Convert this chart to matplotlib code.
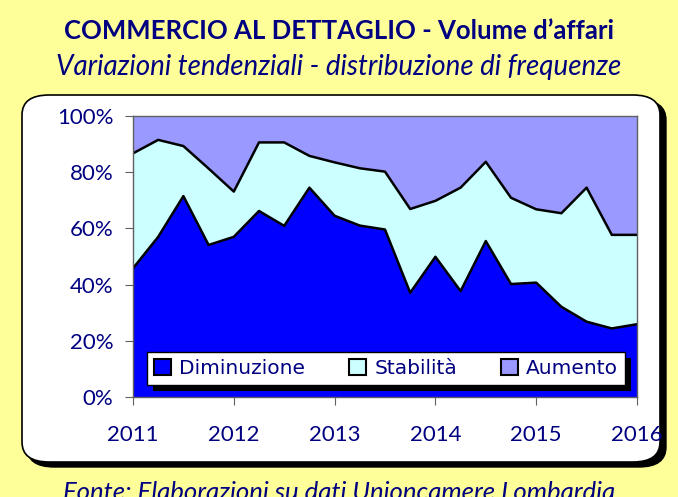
import matplotlib
matplotlib.use("Agg")
import matplotlib.pyplot as plt
from matplotlib.patches import FancyBboxPatch, Rectangle
import numpy as np

years = [2011, 2012, 2013, 2014, 2015, 2016]
quarters = [2011 + 0.25 * i for i in range(21)]
diminuzione = [45.8, 57.0, 71.5, 54.1, 57.0, 66.2, 60.9, 74.5, 64.5, 61.0, 59.6,
               37.1, 49.9, 37.7, 55.5, 40.2, 40.7, 32.1, 26.8, 24.4, 25.9]
dim_plus_stab = [86.7, 91.5, 89.3, 81.3, 73.1, 90.6, 90.6, 85.8, 83.5, 81.4, 80.2,
                 66.9, 69.8, 74.5, 83.7, 70.9, 66.8, 65.4, 74.5, 57.7, 57.7]
stabilita = [t - d for t, d in zip(dim_plus_stab, diminuzione)]
aumento = [100 - t for t in dim_plus_stab]
labels = ["Diminuzione", "Stabilità", "Aumento"]
colors = ["#0000FF", "#CCFFFF", "#9999FF"]
navy = "#000080"

W, H = 678, 497
fig = plt.figure(figsize=(W / 100, H / 100), dpi=100)
fig.patch.set_facecolor("#FFFF99")

def fx(px): return px / W
def fy(py): return 1 - py / H

shadow = FancyBboxPatch((fx(27), fy(467)), fx(666) - fx(27), fy(100) - fy(467),
                        boxstyle="round,pad=0,rounding_size=0.04", transform=fig.transFigure,
                        facecolor="black", edgecolor="black", zorder=0)
box = FancyBboxPatch((fx(22), fy(462)), fx(660) - fx(22), fy(95) - fy(462),
                     boxstyle="round,pad=0,rounding_size=0.04", transform=fig.transFigure,
                     facecolor="white", edgecolor="black", linewidth=1.2, zorder=1)
fig.patches.extend([shadow, box])

fig.text(0.5, fy(31), "COMMERCIO AL DETTAGLIO - Volume d\u2019affari", ha="center", va="center",
         fontsize=18.5, fontweight="bold", color=navy, family="Lato")
fig.text(0.5, fy(67), "Variazioni tendenziali - distribuzione di frequenze", ha="center", va="center",
         fontsize=20, style="italic", color=navy, family="Lato")
fig.text(0.5, fy(493), "Fonte: Elaborazioni su dati Unioncamere Lombardia", ha="center", va="center",
         fontsize=18.5, style="italic", color=navy, family="Lato")

ax = fig.add_axes([fx(133), fy(397), fx(637) - fx(133), fy(116) - fy(397)])
ax.set_zorder(2)
polys = ax.stackplot(quarters, diminuzione, stabilita, aumento, colors=colors, labels=labels,
                     edgecolor="none")
ax.plot(quarters, diminuzione, color="black", lw=1.8)
ax.plot(quarters, dim_plus_stab, color="black", lw=1.8)
ax.set_xlim(2011, 2016)
ax.set_ylim(0, 100)
ax.set_yticks([0, 20, 40, 60, 80, 100])
ax.set_yticklabels([f"{v}%" for v in [0, 20, 40, 60, 80, 100]])
ax.set_xticks(years)
ax.set_xticklabels([str(y) for y in years])
ax.tick_params(axis="both", colors="#606060", labelcolor=navy, labelsize=16, direction="out", length=6)
for lab in ax.get_xticklabels() + ax.get_yticklabels():
    lab.set_family("Lato")
ax.tick_params(axis="x", pad=14)
ax.tick_params(axis="y", pad=8)
for s in ax.spines.values():
    s.set_color("#606060")
    s.set_linewidth(1)

lx0, ly0, lx1, ly1 = 147, 347, 625, 385
leg = ax.legend(handles=polys, labels=labels, loc="lower left", ncol=3,
                bbox_to_anchor=((lx0 - 133) / 504, (397 - ly1) / 281, (lx1 - lx0) / 504, (ly1 - ly0) / 281),
                mode="expand", frameon=True, fancybox=False, framealpha=1, fontsize=14.5,
                handlelength=0.85, handleheight=0.85, handletextpad=0.4, columnspacing=1.0,
                borderpad=0.35, borderaxespad=0, labelcolor=navy)
leg.get_frame().set_edgecolor("black")
leg.get_frame().set_linewidth(1)
leg.set_zorder(6)
for h in leg.legend_handles:
    h.set_edgecolor("black")
    h.set_linewidth(1.5)

fig.canvas.draw()
bb = leg.get_frame().get_window_extent()
inv = fig.transFigure.inverted()
(x0, y0), (x1, y1) = inv.transform([[bb.x0, bb.y0], [bb.x1, bb.y1]])
ax.add_patch(Rectangle((x0 + 6 / W, y0 - 6 / H), x1 - x0, y1 - y0, transform=fig.transFigure,
                       facecolor="black", edgecolor="none", zorder=5, clip_on=False))

fig.savefig("out.png", dpi=100, facecolor=fig.get_facecolor())
